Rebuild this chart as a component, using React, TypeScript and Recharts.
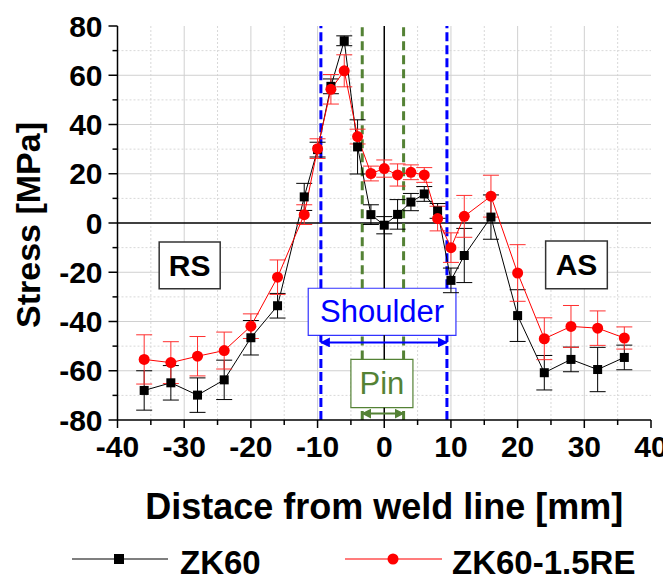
import {
  ComposedChart,
  Line,
  XAxis,
  YAxis,
  CartesianGrid,
  ReferenceLine,
  ReferenceArea,
  ErrorBar,
} from 'recharts'

const positions = [-36, -32, -28, -24, -20, -16, -12, -10, -8, -6, -4, -2, 0, 2, 4, 6, 8, 10, 12, 16, 20, 24, 28, 32, 36]
const zk60 = [-68, -64.9, -69.9, -63.7, -46.6, -33.6, 10.6, 29.8, 55.5, 74, 30.9, 3.4, -0.9, 3.5, 8.5, 11.8, 4.9, -23.3, -13.2, 2.4, -37.6, -60.8, -55.4, -59.5, -54.6]
const zk60Err = [8, 7, 7, 8, 7, 5, 5.5, 3, 3, 2, 11, 4, 3.5, 6, 3.5, 3, 3, 5, 11, 9, 10.5, 7, 5, 9, 5]
const zk60Re = [-55.4, -56.7, -54.1, -51.8, -41.9, -22, 3.4, 30.2, 54.3, 61.8, 35.1, 20.1, 22.1, 19.5, 20.6, 19.5, 1.8, -10, 2.7, 10.9, -20.3, -47, -42, -42.7, -46.7]
const zk60ReErr = [10, 8.5, 8, 7.5, 5, 7, 4, 4, 6, 6.5, 3, 3, 3.5, 4.5, 3, 3, 5, 6, 8.5, 8.5, 11.5, 8.5, 8.5, 7, 4.5]

const seriesNames = ['ZK60', 'ZK60-1.5RE']
const xTicks = [-40, -35, -30, -25, -20, -15, -10, -5, 0, 5, 10, 15, 20, 25, 30, 35, 40]
const yTicks = [-80, -70, -60, -50, -40, -30, -20, -10, 0, 10, 20, 30, 40, 50, 60, 70, 80]
const xMajor = [-30, -20, -10, 10, 20, 30]
const xMinor = [-35, -25, -15, -5, 5, 15, 25, 35]
const yMajor = [-60, -40, -20, 20, 40, 60]
const yMinor = [-70, -50, -30, -10, 10, 30, 50, 70]

// tool zones (mm)
const shoulderEdges = [-9.5, 9.4]
const pinEdges = [-3.3, 2.9]
// stress ranges where the vertical lines show between the label boxes
const shoulderRuns = [[-80, -45.6], [-26.5, 80]]
const pinRuns = [[-80, -75], [-55.4, -45.6], [-26.5, 80]]

const data = positions.map((pos, i) => ({
  pos,
  zk60: zk60[i],
  zk60Err: zk60Err[i],
  zk60Re: zk60Re[i],
  zk60ReErr: zk60ReErr[i],
}))

const FONT = '"Liberation Sans", Arial, sans-serif'
const BLUE = '#0000ff'
const GREEN = '#548235'

const XTick = (props: any) => {
  const { x, y, payload } = props
  const major = payload.value % 10 === 0
  return (
    <g>
      <line x1={x} x2={x} y1={y} y2={y + (major ? 8 : 5)} stroke="#000" strokeWidth={1.5} />
      {major && (
        <text x={x} y={y + 37} textAnchor="middle" fontFamily={FONT} fontWeight="bold" fontSize={30} fill="#000">
          {payload.value}
        </text>
      )}
    </g>
  )
}

const YTick = (props: any) => {
  const { x, y, payload } = props
  const major = payload.value % 20 === 0
  return (
    <g>
      <line x1={x - (major ? 9 : 5)} x2={x} y1={y} y2={y} stroke="#000" strokeWidth={1.5} />
      {major && (
        <text x={x - 15} y={y + 10.5} textAnchor="end" fontFamily={FONT} fontWeight="bold" fontSize={30} fill="#000">
          {payload.value}
        </text>
      )}
    </g>
  )
}

const XTitle = (props: any) => {
  const { viewBox } = props
  return (
    <text x={viewBox.x + viewBox.width / 2} y={viewBox.y + 99} textAnchor="middle" fontFamily={FONT} fontWeight="bold" fontSize={36} fill="#000">
      Distace from weld line [mm]
    </text>
  )
}

const YTitle = (props: any) => {
  const { viewBox } = props
  const cx = viewBox.x + 20
  const cy = viewBox.y + viewBox.height / 2 + 2
  return (
    <text x={cx} y={cy} transform={`rotate(-90, ${cx}, ${cy})`} textAnchor="middle" dominantBaseline="central" fontFamily={FONT} fontWeight="bold" fontSize={34} fill="#000">
      Stress [MPa]
    </text>
  )
}

const boxLabel = (text: string, color: string, weight: string, size: number) => (props: any) => {
  const { viewBox } = props
  return (
    <text
      x={viewBox.x + viewBox.width / 2}
      y={viewBox.y + viewBox.height / 2}
      textAnchor="middle"
      dominantBaseline="central"
      fontFamily={FONT}
      fontWeight={weight}
      fontSize={size}
      fill={color}
    >
      {text}
    </text>
  )
}

const squareDot = (props: any) => {
  const { cx, cy, index } = props
  return <rect key={`sq-${index}`} x={cx - 4.5} y={cy - 4.5} width={9} height={9} fill="#000" />
}

const circleDot = (props: any) => {
  const { cx, cy, index } = props
  return <circle key={`ci-${index}`} cx={cx} cy={cy} r={5.5} fill="#ff0000" />
}

export default function App() {
  return (
    <div style={{ position: 'relative', width: 663, height: 574 }}>
      <ComposedChart width={663} height={520} data={data} margin={{ top: 18, right: 20, left: 0, bottom: 0 }}>
        <defs>
          <marker id="arrBlue" viewBox="0 0 10 10" refX="9" refY="5" markerWidth="5" markerHeight="5" orient="auto-start-reverse">
            <path d="M0,0 L10,5 L0,10 z" fill={BLUE} />
          </marker>
          <marker id="arrGreen" viewBox="0 0 10 10" refX="9" refY="5" markerWidth="5" markerHeight="5" orient="auto-start-reverse">
            <path d="M0,0 L10,5 L0,10 z" fill={GREEN} />
          </marker>
        </defs>
        <CartesianGrid verticalValues={xMinor} horizontalValues={yMinor} stroke="#d8d8d8" strokeDasharray="2 2" />
        <CartesianGrid verticalValues={xMajor} horizontalValues={yMajor} stroke="#d0d0d0" />
        <XAxis
          dataKey="pos"
          type="number"
          domain={[-40, 40]}
          ticks={xTicks}
          interval={0}
          allowDataOverflow
          height={108}
          tickSize={0}
          tickMargin={0}
          tickLine={false}
          tick={<XTick />}
          axisLine={{ stroke: '#000', strokeWidth: 1.5 }}
          label={XTitle}
        />
        <XAxis xAxisId="top" orientation="top" type="number" domain={[-40, 40]} height={0} tick={false} tickLine={false} axisLine={{ stroke: '#000', strokeWidth: 1.5 }} />
        <YAxis
          type="number"
          domain={[-80, 80]}
          ticks={yTicks}
          interval={0}
          allowDataOverflow
          width={109.5}
          tickSize={0}
          tickMargin={0}
          tickLine={false}
          tick={<YTick />}
          axisLine={{ stroke: '#000', strokeWidth: 1.5 }}
          label={YTitle}
        />
        <YAxis yAxisId="right" orientation="right" type="number" domain={[-80, 80]} width={0} tick={false} tickLine={false} axisLine={{ stroke: '#000', strokeWidth: 1.5 }} />

        <ReferenceLine y={0} stroke="#000" strokeWidth={1.5} />
        {pinRuns.map(([a, b]) => (
          <ReferenceLine key={`z${a}`} segment={[{ x: 0, y: a }, { x: 0, y: b }]} stroke="#000" strokeWidth={1.5} />
        ))}
        {shoulderEdges.map((v) =>
          shoulderRuns.map(([a, b]) => (
            <ReferenceLine key={`sh${v}${a}`} segment={[{ x: v, y: a }, { x: v, y: b }]} stroke={BLUE} strokeWidth={3} strokeDasharray="9 4" />
          ))
        )}
        {pinEdges.map((v) =>
          pinRuns.map(([a, b]) => (
            <ReferenceLine key={`pin${v}${a}`} segment={[{ x: v, y: a }, { x: v, y: b }]} stroke={GREEN} strokeWidth={3} strokeDasharray="9 5" />
          ))
        )}

        <ReferenceArea x1={-33.75} x2={-24.6} y1={-26.7} y2={-7.7} fill="#fff" fillOpacity={1} stroke="#333" strokeWidth={1.5} label={boxLabel('RS', '#000', 'bold', 30)} />
        <ReferenceArea x1={24.2} x2={33.45} y1={-26.7} y2={-7.3} fill="#fff" fillOpacity={1} stroke="#333" strokeWidth={1.5} label={boxLabel('AS', '#000', 'bold', 30)} />
        <ReferenceArea x1={-11.4} x2={10.75} y1={-45.6} y2={-26.5} fill="#fff" fillOpacity={1} stroke="#3333ff" strokeWidth={1.2} label={boxLabel('Shoulder', BLUE, 'normal', 31)} />
        <ReferenceArea x1={-5} x2={4.3} y1={-75} y2={-55.4} fill="#fff" fillOpacity={1} stroke={GREEN} strokeWidth={1.2} label={boxLabel('Pin', GREEN, 'normal', 31)} />
        <ReferenceLine
          segment={[{ x: shoulderEdges[0], y: -48.5 }, { x: shoulderEdges[1], y: -48.5 }]}
          stroke={BLUE}
          strokeWidth={2}
          markerStart="url(#arrBlue)"
          markerEnd="url(#arrBlue)"
        />
        <ReferenceLine
          segment={[{ x: pinEdges[0], y: -77.4 }, { x: pinEdges[1], y: -77.4 }]}
          stroke={GREEN}
          strokeWidth={2}
          markerStart="url(#arrGreen)"
          markerEnd="url(#arrGreen)"
        />

        <Line type="linear" dataKey="zk60" name={seriesNames[0]} stroke="#000" strokeWidth={1} dot={squareDot} activeDot={false} isAnimationActive={false}>
          <ErrorBar dataKey="zk60Err" direction="y" width={8} stroke="#000" strokeWidth={1} />
        </Line>
        <Line type="linear" dataKey="zk60Re" name={seriesNames[1]} stroke="#ff0000" strokeWidth={1} dot={circleDot} activeDot={false} isAnimationActive={false}>
          <ErrorBar dataKey="zk60ReErr" direction="y" width={8} stroke="#ff3030" strokeWidth={1} />
        </Line>
      </ComposedChart>

      <svg width={663} height={54} style={{ position: 'absolute', left: 0, top: 520 }}>
        <line x1={64} x2={160} y1={31} y2={31} stroke="#555" strokeWidth={1.5} />
        <rect x={106} y={26} width={10} height={10} fill="#000" />
        <text x={172} y={46} fontFamily={FONT} fontWeight="bold" fontSize={33} fill="#000">
          {seriesNames[0]}
        </text>
        <line x1={337} x2={434} y1={31} y2={31} stroke="#ff5050" strokeWidth={1.5} />
        <circle cx={385} cy={31} r={5.5} fill="#ff0000" />
        <text x={444} y={46} fontFamily={FONT} fontWeight="bold" fontSize={33} fill="#000">
          {seriesNames[1]}
        </text>
      </svg>
    </div>
  )
}
